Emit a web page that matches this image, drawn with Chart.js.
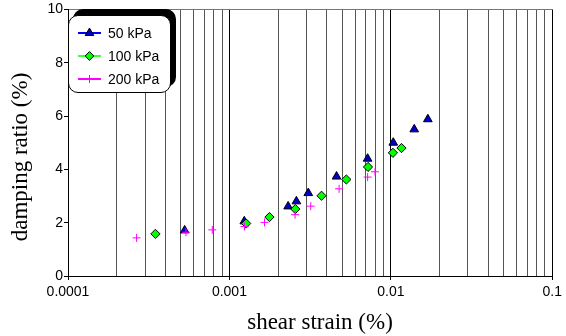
<!DOCTYPE html>
<html>
<head>
<meta charset="utf-8">
<script src="https://cdn.jsdelivr.net/npm/chart.js@4.4.1/dist/chart.umd.min.js"></script>
<style>
  html, body { margin: 0; padding: 0; background: #fff; }
  #wrap { position: relative; width: 566px; height: 336px; }
  #legend {
    position: absolute; left: 68px; top: 15px; width: 103px; height: 78px;
    box-sizing: border-box; border: 1px solid #000; border-radius: 10px;
    background: #fff; box-shadow: 5px -6px 0 #000;
    font-family: "Liberation Sans", Arial, sans-serif; font-size: 14px; color: #000;
  }
  .row { position: absolute; left: 0; height: 14px; width: 100%; }
  .row svg { position: absolute; left: 8px; top: 0; }
  .row span { position: absolute; left: 39px; top: -2px; line-height: 18px; white-space: nowrap; }
</style>
</head>
<body>
<div id="wrap">
  <canvas id="c" width="566" height="336"></canvas>
  <div id="legend"></div>
</div>
<script>
// ---- data ----
const seriesNames = ['50 kPa', '100 kPa', '200 kPa'];

const strain50  = [0.000528, 0.001236, 0.00231, 0.0026, 0.00308, 0.00461, 0.00718, 0.01035, 0.01396, 0.01695];
const damping50 = [1.71, 2.05, 2.61, 2.80, 3.11, 3.73, 4.40, 5.00, 5.50, 5.88];

const strain100  = [0.000348, 0.00127, 0.00177, 0.00256, 0.00372, 0.0053, 0.00722, 0.0103, 0.01164];
const damping100 = [1.58, 1.97, 2.21, 2.51, 3.01, 3.62, 4.09, 4.62, 4.80];

const strain200  = [0.000266, 0.000538, 0.000783, 0.00124, 0.00165, 0.00255, 0.00319, 0.00478, 0.00718, 0.00798];
const damping200 = [1.43, 1.64, 1.73, 1.86, 2.01, 2.30, 2.62, 3.27, 3.71, 3.91];

const xTickValues = [0.0001, 0.001, 0.01, 0.1];
const xTickLabels = ['0.0001', '0.001', '0.01', '0.1'];
const yTickValues = [0, 2, 4, 6, 8, 10];

const xTitle = 'shear strain (%)';
const yTitle = 'damping ratio (%)';

// ---- helpers ----
function pts(xs, ys) { return xs.map((x, i) => ({ x: x, y: ys[i] })); }
function isDecade(v) { const l = Math.log10(v); return Math.abs(l - Math.round(l)) < 1e-6; }

// minor log grid positions (1..9 per decade) between the labelled decades
const xGridValues = [];
for (let d = 0; d < xTickValues.length - 1; d++) {
  for (let k = 1; k <= 9; k++) xGridValues.push(Number((k * xTickValues[d]).toPrecision(6)));
}
xGridValues.push(xTickValues[xTickValues.length - 1]);

const sans = "'Liberation Sans', Arial, sans-serif";
const serif = "'Liberation Serif', 'Times New Roman', serif";

// axis titles, drawn at the places they sit in the reference
const axisTitles = {
  id: 'axisTitles',
  afterDraw(chart) {
    const ctx = chart.ctx;
    ctx.save();
    ctx.fillStyle = '#000';
    ctx.font = '23px ' + serif;
    ctx.textAlign = 'center';
    ctx.textBaseline = 'middle';
    ctx.fillText(xTitle, 320, 323);
    ctx.translate(21, 157);
    ctx.rotate(-Math.PI / 2);
    ctx.fillText(yTitle, 0, 0);
    ctx.restore();
  }
};

const chart = new Chart(document.getElementById('c'), {
  type: 'scatter',
  data: {
    datasets: [
      { label: seriesNames[0], data: pts(strain50, damping50), order: 3,
        pointStyle: 'triangle', pointRadius: 5, backgroundColor: '#0000cc', borderColor: '#000', borderWidth: 1 },
      { label: seriesNames[1], data: pts(strain100, damping100), order: 2,
        pointStyle: 'rectRot', pointRadius: 4.6, backgroundColor: '#00ff00', borderColor: '#000', borderWidth: 1 },
      { label: seriesNames[2], data: pts(strain200, damping200), order: 1,
        pointStyle: 'cross', pointRadius: 4, backgroundColor: '#ff00ff', borderColor: '#ff00ff', borderWidth: 1 }
    ]
  },
  plugins: [axisTitles],
  options: {
    responsive: false,
    animation: false,
    devicePixelRatio: 1,
    events: [],
    layout: { padding: { top: 9, right: 12, left: 0, bottom: 0 } },
    plugins: { legend: { display: false }, tooltip: { enabled: false } },
    scales: {
      x: {
        type: 'logarithmic',
        min: xTickValues[0], max: xTickValues[xTickValues.length - 1],
        afterBuildTicks: s => { s.ticks = xGridValues.map(v => ({ value: v, major: isDecade(v) })); },
        afterFit: s => { s.height = 60; },
        border: { display: true, color: '#000', width: 1 },
        grid: {
          color: c => isDecade(c.tick.value) ? '#000' : '#555',
          tickColor: c => isDecade(c.tick.value) ? '#000' : 'rgba(0,0,0,0)',
          tickLength: 4, lineWidth: 1, drawOnChartArea: true
        },
        ticks: {
          autoSkip: false, maxRotation: 0, minRotation: 0, padding: 4,
          color: '#000', font: { family: sans, size: 14 },
          callback: v => { const i = xTickValues.findIndex(t => Math.abs(Math.log10(t) - Math.log10(v)) < 1e-6); return i >= 0 ? xTickLabels[i] : ''; }
        },
        title: { display: false }
      },
      y: {
        min: 0, max: 10,
        afterBuildTicks: s => { s.ticks = yTickValues.map(v => ({ value: v })); },
        afterFit: s => { s.width = 68; },
        border: { display: true, color: '#000', width: 1 },
        grid: {
          color: c => c.tick && c.tick.value === 10 ? '#777' : 'rgba(0,0,0,0)',
          tickColor: '#000', tickLength: 4, lineWidth: 1
        },
        ticks: { padding: 1, color: '#000', font: { family: sans, size: 14 } },
        title: { display: false }
      }
    }
  }
});

// ---- HTML legend ----
const legendMarkers = [
  '<line x1="1" y1="7" x2="24" y2="7" stroke="#0000ff" stroke-width="2"/><polygon points="12.5,2 16.8,9.5 8.2,9.5" fill="#0000cc" stroke="#000" stroke-width="1"/>',
  '<line x1="1" y1="7" x2="24" y2="7" stroke="#00ff00" stroke-width="1.5"/><polygon points="12.5,2.6 16.9,7 12.5,11.4 8.1,7" fill="#00ff00" stroke="#000" stroke-width="1"/>',
  '<line x1="1" y1="7" x2="24" y2="7" stroke="#ff00ff" stroke-width="2"/><line x1="12.5" y1="3" x2="12.5" y2="11" stroke="#ff00ff" stroke-width="1"/>'
];
const rowTops = [10, 33, 56];
const lg = document.getElementById('legend');
seriesNames.forEach((name, i) => {
  const row = document.createElement('div');
  row.className = 'row';
  row.style.top = rowTops[i] + 'px';
  row.innerHTML = '<svg width="26" height="14">' + legendMarkers[i] + '</svg><span></span>';
  row.querySelector('span').textContent = name;
  lg.appendChild(row);
});
</script>
</body>
</html>
